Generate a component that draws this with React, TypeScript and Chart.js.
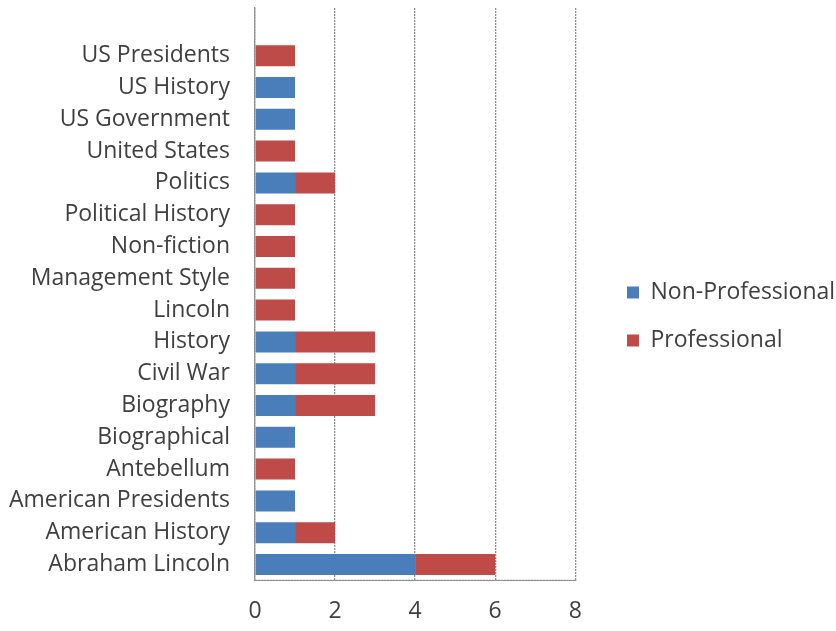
import React, { useEffect, useRef } from "react";
import { Chart, registerables } from "chart.js";

Chart.register(...registerables);

const categories = [
  "",
  "US Presidents",
  "US History",
  "US Government",
  "United States",
  "Politics",
  "Political History",
  "Non-fiction",
  "Management Style",
  "Lincoln",
  "History",
  "Civil War",
  "Biography",
  "Biographical",
  "Antebellum",
  "American Presidents",
  "American History",
  "Abraham Lincoln",
];
const nonProfessional = [null, 0, 1, 1, 0, 1, 0, 0, 0, 0, 1, 1, 1, 1, 0, 1, 1, 4];
const professional = [null, 1, 0, 0, 1, 1, 1, 1, 1, 1, 2, 2, 2, 0, 1, 0, 1, 2];
const xTicks = [0, 2, 4, 6, 8];

const FONT = "'Open Sans', sans-serif";

export default function App() {
  const ref = useRef<HTMLCanvasElement>(null);
  useEffect(() => {
    document.body.style.margin = "0";
    const chart = new Chart(ref.current!, {
      type: "bar",
      data: {
        labels: categories,
        datasets: [
          {
            label: "Non-Professional",
            data: nonProfessional,
            backgroundColor: "#4a7ebb",
            borderWidth: 0,
          },
          {
            label: "Professional",
            data: professional,
            backgroundColor: "#be4b48",
            borderWidth: 0,
          },
        ],
      },
      options: {
        indexAxis: "y",
        animation: false,
        responsive: false,
        maintainAspectRatio: false,
        layout: { padding: { top: 0, right: 69, bottom: 4, left: 0 } },
        datasets: { bar: { categoryPercentage: 1, barPercentage: 0.66 } },
        scales: {
          x: {
            stacked: true,
            min: 0,
            max: 8,
            afterBuildTicks: (axis: any) => {
              axis.ticks = xTicks.map((v) => ({ value: v }));
            },
            afterFit: (s: any) => {
              s.height -= 15;
            },
            ticks: {
              color: "#404040",
              font: { family: FONT, size: 23 },
              padding: 17,
            },
            grid: {
              color: "#8f8f8f",
              lineWidth: 1.3,
              tickLength: 0,
              drawTicks: false,
            },
            border: { display: true, color: "#8f8f8f", dash: [2, 1] },
          },
          y: {
            stacked: true,
            ticks: {
              color: "#404040",
              font: { family: FONT, size: 23 },
              padding: 17,
              autoSkip: false,
            },
            afterFit: (s: any) => {
              s.width = 255;
              s.paddingTop = 8;
              s.paddingBottom = 0;
            },
            grid: { display: false },
            border: { display: true, color: "#8f8f8f", width: 1.3, dash: [2, 1] },
          },
        },
        plugins: {
          legend: {
            position: "right",
            labels: {
              boxWidth: 12,
              boxHeight: 12,
              padding: 25,
              color: "#404040",
              font: { family: FONT, size: 23 },
            },
          },
          tooltip: { enabled: false },
        },
      },
      plugins: [
        {
          id: "legendPlace",
          afterLayout(c: any) {
            const lg = c.legend;
            if (lg) {
              const pad = lg.options.labels.padding;
              lg.left = 627 - pad;
              lg.right = 836;
              lg.width = lg.right - lg.left;
              lg.top += 3;
              lg.bottom += 3;
            }
          },
        },
        {
          id: "bottomBorder",
          afterDraw(c: any) {
            const { ctx, chartArea } = c;
            ctx.save();
            ctx.strokeStyle = "#8f8f8f";
            ctx.lineWidth = 1.3;
            ctx.setLineDash([2, 1]);
            ctx.beginPath();
            ctx.moveTo(chartArea.left, chartArea.bottom);
            ctx.lineTo(chartArea.right, chartArea.bottom);
            ctx.stroke();
            ctx.restore();
          },
        },
      ],
    });
    return () => chart.destroy();
  }, []);
  return (
    <div style={{ position: "absolute", left: 0, top: 0, width: 836, height: 631 }}>
      <canvas ref={ref} width={836} height={631} />
    </div>
  );
}
